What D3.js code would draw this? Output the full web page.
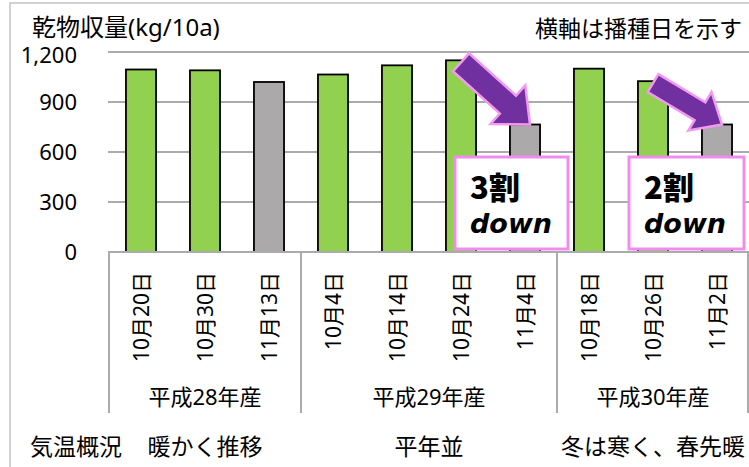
<!DOCTYPE html>
<html>
<head>
<meta charset="utf-8">
<script src="https://cdn.jsdelivr.net/npm/d3@7"></script>
<style>
  body { margin: 0; background: #fff; }
  svg { display: block; font-family: "Noto Sans", "Noto Sans CJK JP", sans-serif; }
</style>
</head>
<body>
<div id="container"></div>
<script>
var width = 749;
var height = 467;

// data
var sowDates = ["10月20日", "10月30日", "11月13日", "10月4日", "10月14日", "10月24日", "11月4日", "10月18日", "10月26日", "11月2日"];
var yields = [1095, 1090, 1020, 1065, 1120, 1150, 765, 1100, 1025, 765];
var lateSowing = [false, false, true, false, false, false, true, false, false, true];
var years = ["平成28年産", "平成29年産", "平成30年産"];
var yearSize = [3, 4, 3];
var climate = ["暖かく推移", "平年並", "冬は寒く、春先暖"];
var yTicks = [0, 300, 600, 900, 1200];
var dropFrom = [5, 8];   // bar index where arrow starts
var dropTo = [6, 9];     // bar index where arrow ends
var dropLabels = ["3割", "2割"];

var green = "#92D050";
var gray = "#ABA9A9";
var gridColor = "#ABABAB";

var x = d3.scaleBand()
    .domain(d3.range(sowDates.length))
    .range([109, 749])
    .paddingInner(0.53)
    .paddingOuter(0.265);

var y = d3.scaleLinear().domain([0, 1200]).range([252, 52]);

var svg = d3.select("#container").append("svg")
    .attr("width", width)
    .attr("height", height);

// outer frame
svg.append("rect")
    .attr("x", 10).attr("y", 3)
    .attr("width", 760).attr("height", 480)
    .attr("fill", "none")
    .attr("stroke", "#C4C4C4")
    .attr("stroke-width", 1.5);

// gridlines
svg.append("g").selectAll("line")
    .data(yTicks.filter(function(d) { return d > 0; }))
    .enter().append("line")
    .attr("x1", 108).attr("x2", 749)
    .attr("y1", function(d) { return y(d); })
    .attr("y2", function(d) { return y(d); })
    .attr("stroke", gridColor)
    .attr("stroke-width", 2);

// y axis labels
svg.append("g").selectAll("text")
    .data(yTicks)
    .enter().append("text")
    .attr("x", 77)
    .attr("y", function(d) { return y(d) + (d == 1200 ? 3 : 0); })
    .attr("dy", "0.36em")
    .attr("text-anchor", "end")
    .attr("font-size", 22)
    .attr("fill", "#000")
    .text(function(d) { return d3.format(",")(d); });

// bars
svg.append("g").selectAll("rect")
    .data(yields)
    .enter().append("rect")
    .attr("x", function(d, i) { return x(i); })
    .attr("y", function(d) { return y(d); })
    .attr("width", x.bandwidth())
    .attr("height", function(d) { return y(0) - y(d); })
    .attr("fill", function(d, i) { return lateSowing[i] ? gray : green; })
    .attr("stroke", "#000")
    .attr("stroke-width", 1.8);

// category axis
svg.append("line")
    .attr("x1", 108).attr("x2", 749)
    .attr("y1", y(0)).attr("y2", y(0))
    .attr("stroke", gridColor)
    .attr("stroke-width", 2);

var bounds = [0];
yearSize.forEach(function(n) { bounds.push(bounds[bounds.length - 1] + n); });
var step = x.step();
function edge(i) { return x.range()[0] + i * step; }

svg.append("g").selectAll("line")
    .data(bounds)
    .enter().append("line")
    .attr("x1", function(d) { return Math.min(edge(d), 748); })
    .attr("x2", function(d) { return Math.min(edge(d), 748); })
    .attr("y1", y(0)).attr("y2", 413)
    .attr("stroke", gridColor)
    .attr("stroke-width", 2);

// sowing date labels (rotated)
svg.append("g").selectAll("text")
    .data(sowDates)
    .enter().append("text")
    .attr("transform", function(d, i) {
        return "translate(" + (x(i) + x.bandwidth() / 2) + ",272) rotate(-90)";
    })
    .attr("dy", "0.36em")
    .attr("text-anchor", "end")
    .attr("font-size", 21)
    .text(function(d) { return d; });

// year labels
svg.append("g").selectAll("text")
    .data(years)
    .enter().append("text")
    .attr("x", function(d, i) { return (edge(bounds[i]) + edge(bounds[i + 1])) / 2; })
    .attr("y", 397)
    .attr("dy", "0.36em")
    .attr("text-anchor", "middle")
    .attr("font-size", 22)
    .text(function(d) { return d; });

// climate row
svg.append("text")
    .attr("x", 30).attr("y", 447).attr("dy", "0.36em")
    .attr("font-size", 23)
    .text("気温概況");

svg.append("g").selectAll("text")
    .data(climate)
    .enter().append("text")
    .attr("x", function(d, i) { return (edge(bounds[i]) + edge(bounds[i + 1])) / 2; })
    .attr("y", 447)
    .attr("dy", "0.36em")
    .attr("text-anchor", "middle")
    .attr("font-size", 23)
    .text(function(d) { return d; });

// titles
svg.append("text")
    .attr("x", 32).attr("y", 36)
    .attr("font-size", 24)
    .text("乾物収量(kg/10a)");

svg.append("text")
    .attr("x", 742).attr("y", 37)
    .attr("text-anchor", "end")
    .attr("font-size", 23)
    .text("横軸は播種日を示す");

// arrows from one bar top to the next
dropFrom.forEach(function(a, k) {
    var b = dropTo[k];
    var x0 = x(a) + x.bandwidth() / 2, y0 = y(yields[a]) + 2;
    var x1 = x(b) + x.bandwidth() / 2 + 5, y1 = y(yields[b]);
    var len = Math.sqrt((x1 - x0) * (x1 - x0) + (y1 - y0) * (y1 - y0));
    var ang = Math.atan2(y1 - y0, x1 - x0) * 180 / Math.PI;
    var sw = len * 0.13, hw = len * 0.28, hl = len * 0.32;
    var pts = [[0, -sw], [len - hl, -sw], [len - hl, -hw], [len, 0],
               [len - hl, hw], [len - hl, sw], [0, sw]];
    svg.append("polygon")
        .attr("points", pts.map(function(p) { return p.join(","); }).join(" "))
        .attr("transform", "translate(" + x0 + "," + y0 + ") rotate(" + ang + ")")
        .attr("fill", "#7030A0")
        .attr("stroke", "#F29AF0")
        .attr("stroke-width", 2.5)
        .attr("stroke-linejoin", "miter");
});

// "down" boxes
var boxX = [455, 629];
var boxW = [113, 115];
dropLabels.forEach(function(lbl, k) {
    var g = svg.append("g");
    g.append("rect")
        .attr("x", boxX[k]).attr("y", 157)
        .attr("width", boxW[k]).attr("height", 92)
        .attr("fill", "#fff")
        .attr("stroke", "#F08CEE")
        .attr("stroke-width", 3);
    g.append("text")
        .attr("x", boxX[k] + 15).attr("y", 199)
        .attr("font-family", "Noto Sans CJK JP")
        .attr("font-size", 31)
        .attr("font-weight", 900)
        .text(lbl);
    g.append("text")
        .attr("x", boxX[k] + 15).attr("y", 233)
        .attr("font-family", "DejaVu Sans")
        .attr("font-size", 27)
        .attr("font-weight", "bold")
        .attr("font-style", "italic")
        .text("down");
});
</script>
</body>
</html>
